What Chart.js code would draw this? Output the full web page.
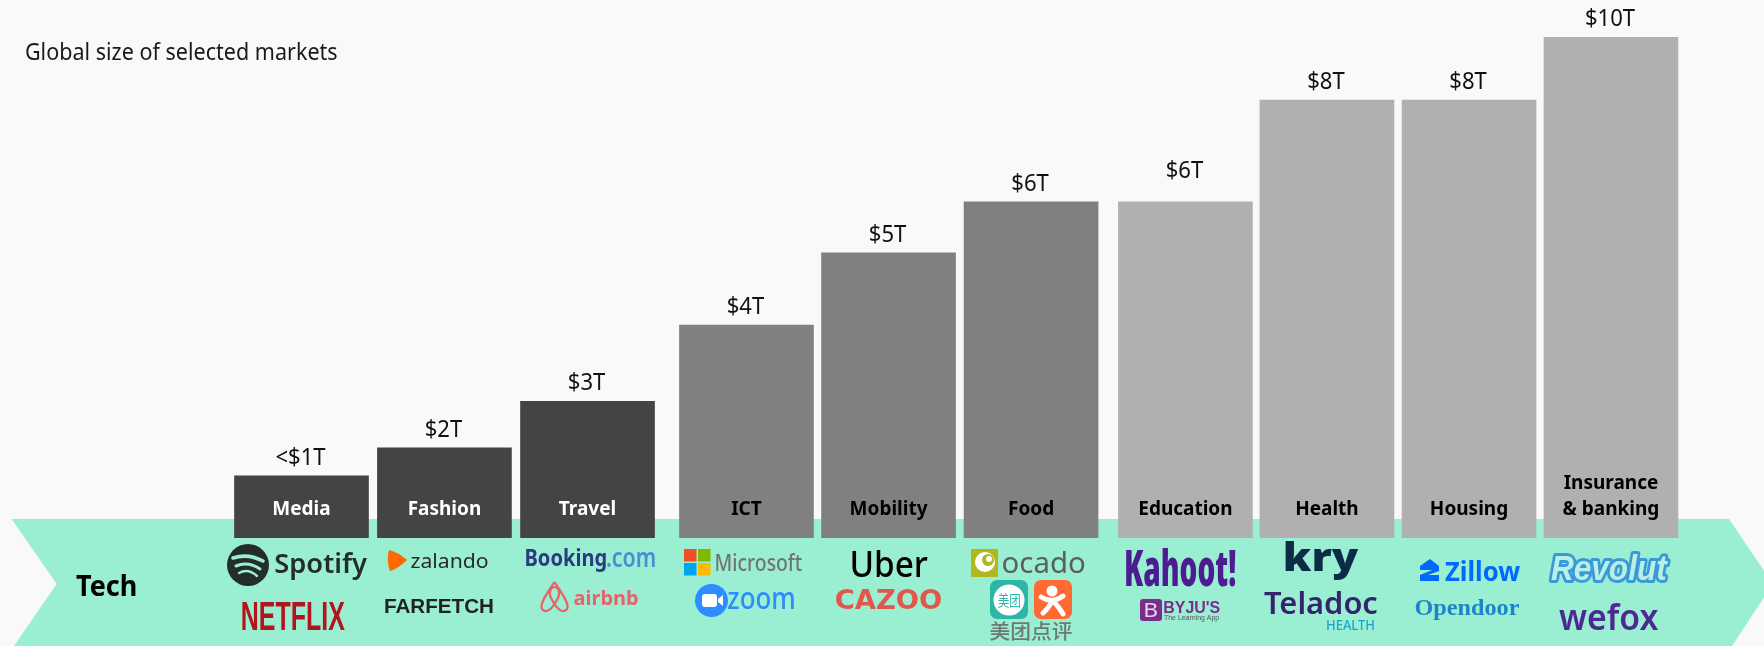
<!DOCTYPE html>
<html><head><meta charset="utf-8">
<style>html,body{margin:0;padding:0;background:#F9F9F9}#w{position:relative;width:1764px;height:646px}canvas{display:block}</style>
<script src="https://cdn.jsdelivr.net/npm/chart.js@4"></script>
</head><body><div id="w"><canvas id="c" width="1764" height="646"></canvas></div>
<script>
const categories = ["Media","Fashion","Travel","ICT","Mobility","Food","Education","Health","Housing","Insurance & banking"];
const sizeIndex  = [1.24,1.80,2.73,4.25,5.69,6.71,6.71,8.74,8.74,10];
const sizeLabels = ["<$1T","$2T","$3T","$4T","$5T","$6T","$6T","$8T","$8T","$10T"];
const slots      = [0,1.001,2.003,3.116,4.111,5.109,6.190,7.181,8.176,9.170];
const groupShade = ["#444444","#444444","#444444","#808080","#808080","#808080","#B0B0B0","#B0B0B0","#B0B0B0","#B0B0B0"];
const nameColor  = ["#FFFFFF","#FFFFFF","#FFFFFF","#000000","#000000","#000000","#000000","#000000","#000000","#000000"];
const chartTitle = "Global size of selected markets";
const bandLabel  = "Tech";

const UI = '"Noto Sans"';
function box(ctx,text,x0,x1,y0,y1,font,color,stroke){
  ctx.save();ctx.font=font;ctx.textAlign='left';ctx.textBaseline='alphabetic';
  const m=ctx.measureText(text);
  const L=m.actualBoundingBoxLeft,R=m.actualBoundingBoxRight,A=m.actualBoundingBoxAscent,D=m.actualBoundingBoxDescent;
  const sx=(x1-x0)/(L+R),sy=(y1-y0)/(A+D);
  ctx.translate(x0+L*sx,y0+A*sy);ctx.scale(sx,sy);
  if(stroke){ctx.strokeStyle=stroke;ctx.lineWidth=7;ctx.lineJoin='round';ctx.strokeText(text,0,0);}
  ctx.fillStyle=color;ctx.fillText(text,0,0);ctx.restore();
}
function rr(ctx,x,y,w,h,r,c){ctx.fillStyle=c;ctx.beginPath();ctx.roundRect(x,y,w,h,r);ctx.fill();}
function circle(ctx,x,y,r,c){ctx.fillStyle=c;ctx.beginPath();ctx.arc(x,y,r,0,Math.PI*2);ctx.fill();}

function drawLogos(ctx){
  // Spotify
  circle(ctx,248,565,21,'#232D2A');
  ctx.save();ctx.strokeStyle='#9AEFD3';ctx.lineCap='round';
  [[558,3.6,15],[566,3,12],[573,2.4,9]].forEach(a=>{ctx.lineWidth=a[1];ctx.beginPath();ctx.moveTo(248-a[2],a[0]);ctx.quadraticCurveTo(248,a[0]-5,248+a[2],a[0]+3);ctx.stroke();});
  ctx.restore();
  box(ctx,"Spotify",275,367,553,580,'600 40px '+UI,'#232D2A');
  box(ctx,"NETFLIX",242,345,602,630,'bold 40px "Liberation Sans"','#B1161F');
  // Zalando
  ctx.fillStyle='#FF6900';ctx.beginPath();ctx.moveTo(389,550);ctx.quadraticCurveTo(398,552,407,560);ctx.quadraticCurveTo(398,569,390,571);ctx.quadraticCurveTo(386,560,389,550);ctx.fill();
  box(ctx,"zalando",411,488,553,568,'40px '+UI,'#2A2A2A');
  box(ctx,"FARFETCH",385,493,599,613,'bold 40px "Liberation Sans"','#222222');
  // Booking / Airbnb
  box(ctx,"Booking",526,606,548,571,'bold 40px '+UI,'#2A3B80');
  box(ctx,".com",607,655,552,567,'600 40px '+UI,'#4A90D0');
  ctx.save();ctx.strokeStyle='#E8636B';ctx.lineWidth=2.2;ctx.beginPath();
  ctx.moveTo(554.5,582);ctx.bezierCurveTo(548,592,539,604,542,609);ctx.bezierCurveTo(546,614,552,610,558,598);ctx.bezierCurveTo(561,592,558,587,554.5,587);ctx.bezierCurveTo(551,587,548,592,551,598);ctx.bezierCurveTo(557,610,563,614,567,609);ctx.bezierCurveTo(570,604,561,592,554.5,582);ctx.stroke();ctx.restore();
  box(ctx,"airbnb",574,638,590,605,'bold 40px '+UI,'#E8636B');
  // Microsoft / Zoom
  [[684,549,'#F25022'],[698,549,'#7FBA00'],[684,563,'#00A4EF'],[698,563,'#FFB900']].forEach(a=>{ctx.fillStyle=a[2];ctx.fillRect(a[0],a[1],12.5,12.5);});
  box(ctx,"Microsoft",716,802,553,571,'500 40px '+UI,'#737373');
  circle(ctx,711.5,600.5,16.5,'#2D8CFF');
  rr(ctx,702,594,15,13,3,'#FFFFFF');
  ctx.fillStyle='#FFFFFF';ctx.beginPath();ctx.moveTo(718,599);ctx.lineTo(723,595);ctx.lineTo(723,606);ctx.lineTo(718,602);ctx.fill();
  box(ctx,"zoom",728,794,592,609,'500 40px '+UI,'#2D8CFF');
  // Uber / Cazoo
  box(ctx,"Uber",852,928,550,577,'500 40px '+UI,'#000000');
  box(ctx,"CAZOO",836,941,589,610,'bold 40px "DejaVu Sans"','#E2574C');
  // Ocado
  rr(ctx,971,549,27,28,1,'#B0B81E');
  circle(ctx,985,562,10,'#FFFFFF');circle(ctx,988,560,6,'#B0B81E');circle(ctx,989,559,3,'#FFFFFF');
  box(ctx,"ocado",1003,1085,551,573,'40px '+UI,'#5A5F5F');
  // Meituan Dianping
  rr(ctx,990,580,38,39,7,'#2DB5A8');circle(ctx,1009,600,15.5,'#FFFFFF');
  box(ctx,"美团",998,1020,593,607,'40px "Noto Sans CJK SC"','#2DB5A8');
  rr(ctx,1034,580,38,39,7,'#FF6A33');
  circle(ctx,1052,591,5.5,'#FFFFFF');
  ctx.save();ctx.strokeStyle='#FFFFFF';ctx.lineWidth=5;ctx.lineCap='round';ctx.beginPath();ctx.moveTo(1041,597);ctx.quadraticCurveTo(1052,604,1063,596);ctx.moveTo(1052,601);ctx.quadraticCurveTo(1048,609,1043,613);ctx.moveTo(1054,602);ctx.quadraticCurveTo(1059,607,1063,614);ctx.stroke();ctx.restore();
  box(ctx,"美团点评",990,1072,621,641,'500 40px "Noto Sans CJK SC"','#6B7A75');
  // Kahoot / Byju's
  box(ctx,"Kahoot!",1126,1236,548,586,'900 40px '+UI,'#4B1D91');
  rr(ctx,1140,599,22,22,3,'#7B2D8B');
  box(ctx,"B",1145,1157,603,617,'40px '+UI,'#E8D5EE');
  box(ctx,"BYJU'S",1164,1220,602,613,'bold 40px "Liberation Sans"','#7B2D8B');
  box(ctx,"The Learning App",1164,1219,615,621,'40px "Liberation Sans"','#555555');
  // Kry / Teladoc
  box(ctx,"kry",1285,1359,541,581,'900 40px '+UI,'#0C2B45');
  box(ctx,"Teladoc",1264,1377,591,614,'600 40px '+UI,'#35246B');
  box(ctx,"HEALTH",1327,1374,620,630,'500 40px '+UI,'#1FA3C8');
  // Zillow / Opendoor
  ctx.fillStyle='#006AFF';ctx.beginPath();ctx.moveTo(1430,559);ctx.lineTo(1439,566);ctx.lineTo(1439,571);ctx.lineTo(1428,575);ctx.lineTo(1439,575);ctx.lineTo(1439,581);ctx.lineTo(1420,581);ctx.lineTo(1420,575);ctx.lineTo(1432,570);ctx.lineTo(1420,570);ctx.lineTo(1420,566);ctx.closePath();ctx.fill();
  box(ctx,"Zillow",1445,1520,561,581,'bold 40px '+UI,'#006AFF');
  box(ctx,"Opendoor",1415,1519,598,620,'bold 40px "Liberation Serif"','#1C85C8');
  // Revolut / wefox
  box(ctx,"Revolut",1551,1668,554,580,'italic bold 40px "Liberation Sans"','#B8F0E6','#3A9AD9');
  box(ctx,"wefox",1559,1658,603,630,'600 40px '+UI,'#4C2A92');
}

const bandAndNotes = {
  id:'bandAndNotes',
  beforeDatasetsDraw(chart){
    const ctx=chart.ctx;
    ctx.save();ctx.fillStyle='#9AEFD3';ctx.beginPath();
    ctx.moveTo(11.6,519);ctx.lineTo(1729,519);ctx.lineTo(1773,584);ctx.lineTo(1732,646);ctx.lineTo(14,646);ctx.lineTo(56.7,584);ctx.closePath();ctx.fill();ctx.restore();
  },
  afterDatasetsDraw(chart){
    const ctx=chart.ctx, meta=chart.getDatasetMeta(0);
    ctx.save();
    box(ctx,chartTitle,26,337,42,60,'40px '+UI,'#1A1A1A');
    box(ctx,bandLabel,76,136,574,596,'bold 40px '+UI,'#000000');
    ctx.textAlign='center';ctx.textBaseline='middle';
    meta.data.forEach((bar,i)=>{
      // value label above the bar
      const gap = categories[i]==="Education" ? 31 : 18;
      ctx.save();ctx.translate(bar.x-1,bar.y-gap);ctx.scale(0.92,1);
      ctx.font='24px '+UI;ctx.fillStyle='#111111';ctx.fillText(sizeLabels[i],0,0);ctx.restore();
      // category name inside the bar
      const lines = categories[i]==="Insurance & banking" ? ["Insurance","& banking"] : [categories[i]];
      lines.forEach((t,k)=>{
        ctx.save();ctx.translate(bar.x,509-(lines.length-1-k)*25.5);ctx.scale(0.95,1);
        ctx.font='bold 20px '+UI;ctx.fillStyle=nameColor[i];ctx.fillText(t,0,0);ctx.restore();
      });
    });
    ctx.restore();
    drawLogos(ctx);
  }
};

new Chart(document.getElementById('c'),{
  type:'bar',
  data:{labels:categories,datasets:[{
    data:slots.map((s,i)=>({x:s,y:sizeIndex[i]})),
    backgroundColor:groupShade,borderWidth:0,barThickness:134
  }]},
  options:{
    responsive:false,animation:false,
    layout:{padding:{top:37,bottom:108,left:0,right:0}},
    plugins:{legend:{display:false},tooltip:{enabled:false},title:{display:false}},
    scales:{
      x:{type:'linear',min:-2.1113,max:10.2416,display:false,offset:false,grid:{display:false}},
      y:{min:0,max:10,display:false,grid:{display:false}}
    }
  },
  plugins:[bandAndNotes]
});
</script></body></html>
